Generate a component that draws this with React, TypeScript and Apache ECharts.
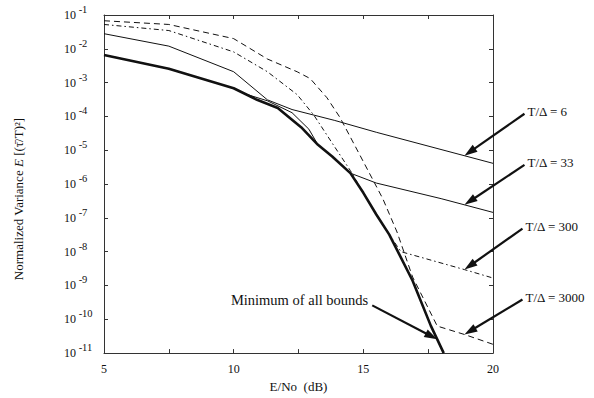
import React, { useEffect, useRef } from "react";
import * as echarts from "echarts";

// E/No (dB) values and normalized variance values
const minBoundX = [5, 7.5, 10, 10.9, 11.7, 12.6, 13.25, 13.8, 14.5, 15, 15.5, 16, 16.9, 17.6, 18.1];
const minBoundY = [6.6e-3, 2.57e-3, 6.8e-4, 3.1e-4, 1.78e-4, 4.8e-5, 1.45e-5, 6.5e-6, 2.1e-6, 5.5e-7, 1.26e-7, 3.2e-8, 1.38e-9, 6.5e-11, 1e-11];

const t6X = [5, 7.5, 10, 11.3, 12.25, 13.9, 15.5, 20];
const t6Y = [2.8e-2, 1.2e-2, 2.1e-3, 3.1e-4, 1.6e-4, 7.6e-5, 3.4e-5, 4.1e-6];

const t33X = [5, 7.5, 10, 10.5, 11.3, 12.25, 12.9, 13.25, 13.8, 14.5, 15.5, 18, 20];
const t33Y = [6.6e-3, 2.57e-3, 6.8e-4, 4.5e-4, 2.9e-4, 1.29e-4, 4.2e-5, 1.45e-5, 6.5e-6, 2.1e-6, 1.07e-6, 3.7e-7, 1.45e-7];

const t300X = [5, 7.5, 10, 11.3, 12.45, 13.1, 13.8, 14.5, 15, 15.5, 16, 16.45, 18.9, 20];
const t300Y = [5.25e-2, 3.47e-2, 8.1e-3, 2.1e-3, 4.4e-4, 1.07e-4, 1.62e-5, 2.5e-6, 5.5e-7, 1.26e-7, 3.2e-8, 1.0e-8, 2.95e-9, 1.66e-9];

const t3000X = [5, 7.5, 10, 11.3, 12.45, 12.95, 13.6, 14.1, 14.5, 15, 15.75, 16.3, 16.9, 17.85, 18.9, 20];
const t3000Y = [6.76e-2, 5.25e-2, 2.0e-2, 5.0e-3, 2.09e-3, 1.32e-3, 3.55e-4, 9.3e-5, 2.45e-5, 4.6e-6, 3.7e-7, 3.8e-8, 1.78e-9, 6.3e-11, 3.55e-11, 1.82e-11];

const xTickLabels = [5, 10, 15, 20];

// annotations
const annLabels = ["T/Δ = 6", "T/Δ = 33", "T/Δ = 300", "T/Δ = 3000", "Minimum of all bounds"];
const annTipX = [18.9, 18.9, 18.9, 18.9, 17.85];

const FONT = '"Liberation Serif", "Times New Roman", serif';
const INK = "#111";

const zip = (xs: number[], ys: number[]) => xs.map((x, i) => [x, ys[i]]);

const interpLog = (xs: number[], ys: number[], x: number) => {
  for (let i = 0; i < xs.length - 1; i++) {
    if (x >= xs[i] && x <= xs[i + 1]) {
      const t = (x - xs[i]) / (xs[i + 1] - xs[i]);
      const l = Math.log10(ys[i]) + t * (Math.log10(ys[i + 1]) - Math.log10(ys[i]));
      return Math.pow(10, l);
    }
  }
  return ys[ys.length - 1];
};

export default function App() {
  const ref = useRef<HTMLDivElement>(null);
  useEffect(() => {
    if (!ref.current) return;
    const chart = echarts.init(ref.current, undefined, { renderer: "svg" });
    const thin = { color: INK, width: 1 };
    const common = { type: "line", showSymbol: false, symbol: "none", silent: true, animation: false };
    const yAxisBase = {
      type: "log",
      logBase: 10,
      min: 1e-11,
      max: 1e-1,
      interval: 1,
      splitNumber: 10,
      splitLine: { show: false },
      axisLine: { show: true, lineStyle: { color: "#333", width: 1 } },
      axisTick: { show: true, inside: true, length: 4, lineStyle: { color: "#333" } },
    };
    const xAxisBase = {
      type: "value",
      min: 5,
      max: 20,
      interval: 2.5,
      splitLine: { show: false },
      axisLine: { show: true, onZero: false, lineStyle: { color: "#333", width: 1 } },
      axisTick: { show: true, inside: true, length: 4, lineStyle: { color: "#333" } },
    };
    chart.setOption({
      animation: false,
      backgroundColor: "#fff",
      grid: { left: 104, top: 15, right: 101, bottom: 37, containLabel: false },
      xAxis: [
        {
          ...xAxisBase,
          position: "bottom",
          name: "E/No  (dB)",
          nameLocation: "middle",
          nameGap: 19,
          nameTextStyle: { fontFamily: FONT, fontSize: 13, color: INK },
          axisLabel: {
            margin: 10,
            fontFamily: FONT,
            fontSize: 12,
            color: INK,
            formatter: (v: number) => (xTickLabels.indexOf(v) >= 0 ? String(v) : ""),
          },
        },
        { ...xAxisBase, position: "top", axisLabel: { show: false } },
      ],
      yAxis: [
        {
          ...yAxisBase,
          position: "left",
          name: "Normalized Variance {i|E} [(τ̄/T)²]",
          nameLocation: "middle",
          nameGap: 79,
          nameRotate: 90,
          nameTextStyle: {
            fontFamily: FONT,
            fontSize: 13,
            color: INK,
            padding: [0, 30, 0, 0],
            rich: { i: { fontFamily: FONT, fontSize: 13, fontStyle: "italic", color: INK } },
          },
          axisLabel: {
            margin: 40,
            align: "left",
            hideOverlap: false,
            formatter: (v: number) => {
              const e = Math.round(Math.log10(v));
              return "{b|10}{s| " + String(e) + "}";
            },
            rich: {
              b: { fontFamily: FONT, fontSize: 12, color: INK, lineHeight: 12 },
              s: { fontFamily: FONT, fontSize: 10.5, color: INK, lineHeight: 11, padding: [0, 0, 11, 0] },
            },
          },
        },
        { ...yAxisBase, position: "right", axisLabel: { show: false } },
      ],
      series: [
        { ...common, name: "T/Δ = 6", data: zip(t6X, t6Y), lineStyle: thin, z: 2 },
        { ...common, name: "T/Δ = 33", data: zip(t33X, t33Y), lineStyle: thin, z: 2 },
        {
          ...common,
          name: "T/Δ = 300",
          data: zip(t300X, t300Y),
          lineStyle: { color: INK, width: 1, type: [5, 3, 1.5, 3] },
          z: 2,
        },
        {
          ...common,
          name: "T/Δ = 3000",
          data: zip(t3000X, t3000Y),
          lineStyle: { color: INK, width: 1, type: [6, 4] },
          z: 2,
        },
        {
          ...common,
          name: "Minimum of all bounds",
          data: zip(minBoundX, minBoundY),
          lineStyle: { color: INK, width: 2.6 },
          z: 3,
        },
      ],
    });

    // annotations with arrows, anchored to the curves through the axis scales
    const curves = [
      [t6X, t6Y],
      [t33X, t33Y],
      [t300X, t300Y],
      [t3000X, t3000Y],
      [minBoundX, minBoundY],
    ];
    const tailOffsets = [
      [60, -42],
      [60, -40],
      [58, -41],
      [58, -35],
      [-65, -34],
    ];
    const graphics: any[] = [];
    annLabels.forEach((label, i) => {
      const [xs, ys] = curves[i];
      const tipVal = interpLog(xs, ys, annTipX[i]);
      const tip = chart.convertToPixel({ gridIndex: 0 }, [annTipX[i], tipVal]) as number[];
      const tail = [tip[0] + tailOffsets[i][0], tip[1] + tailOffsets[i][1]];
      const dx = tip[0] - tail[0];
      const dy = tip[1] - tail[1];
      const len = Math.hypot(dx, dy);
      const ux = dx / len;
      const uy = dy / len;
      const headLen = 13;
      const headW = 4.2;
      const bx = tip[0] - ux * headLen;
      const by = tip[1] - uy * headLen;
      graphics.push({
        type: "line",
        silent: true,
        shape: { x1: tail[0], y1: tail[1], x2: bx + ux * 2, y2: by + uy * 2 },
        style: { stroke: INK, lineWidth: 2.2 },
        z: 10,
      });
      graphics.push({
        type: "polygon",
        silent: true,
        shape: {
          points: [
            [tip[0], tip[1]],
            [bx - uy * headW, by + ux * headW],
            [bx + uy * headW, by - ux * headW],
          ],
        },
        style: { fill: INK },
        z: 10,
      });
      const isLeft = tailOffsets[i][0] < 0;
      graphics.push({
        type: "text",
        silent: true,
        x: isLeft ? tail[0] - 4 : tail[0] + 3,
        y: isLeft ? tail[1] - 5 : tail[1] - 2,
        style: {
          text: label,
          fontFamily: FONT,
          fontSize: isLeft ? 14.5 : 13,
          fill: INK,
          align: isLeft ? "right" : "left",
          verticalAlign: "middle",
        },
        z: 10,
      });
    });
    chart.setOption({ graphic: graphics });

    return () => chart.dispose();
  }, []);
  return (
    <div
      ref={ref}
      style={{ position: "fixed", left: 0, top: 0, width: 594, height: 398, background: "#fff" }}
    />
  );
}
